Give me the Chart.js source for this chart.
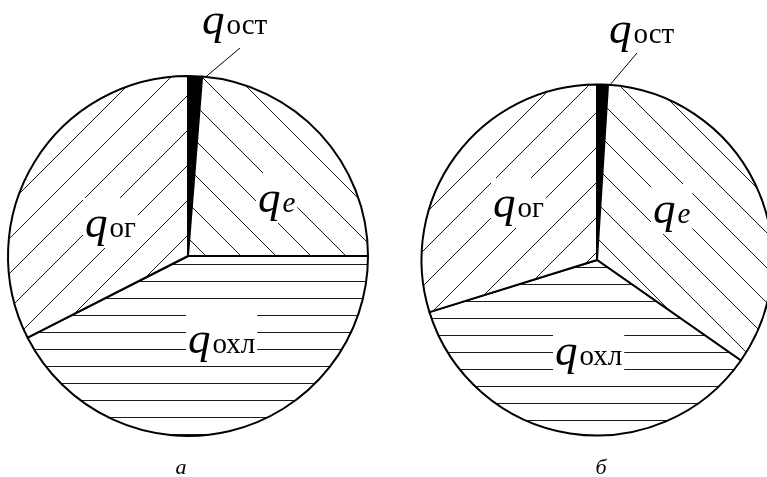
<!DOCTYPE html>
<html><head><meta charset="utf-8">
<script src="https://cdn.jsdelivr.net/npm/chart.js@4"></script>
<style>
html,body{margin:0;padding:0;background:#fff;}
#wrap{position:relative;width:767px;height:477px;overflow:hidden;background:#fff;}
canvas{position:absolute;top:0;}
</style></head><body>
<div id="wrap">
<canvas id="pieA" width="384" height="477" style="left:0"></canvas>
<canvas id="pieB" width="383" height="477" style="left:384px"></canvas>
</div>
<script>
// ---- data ----
const categories = ['ост', 'e', 'охл', 'ог'];      // q-subscripts, clockwise from top
const valuesA = [1.25, 23.75, 42.5, 32.5];          // chart "а", % of heat
const valuesB = [1.0, 33.7, 35.5, 29.8];            // chart "б", % of heat
const captions = ['а', 'б'];

// ---- styles ----
const fam = '"Liberation Serif", "Times New Roman", "DejaVu Serif", serif';
const qFont = 'italic 45px ' + fam;
const subFont = '29px ' + fam;
const eFont = 'italic 29px ' + fam;
const capFont = 'italic 22px ' + fam;

function hatch(kind, tx, ty) {
  const s = kind === 'h' ? 17 : 35;
  const c = document.createElement('canvas');
  c.width = s; c.height = s;
  const g = c.getContext('2d');
  g.fillStyle = '#fff'; g.fillRect(0, 0, s, s);
  g.strokeStyle = '#1a1a1a'; g.lineWidth = 1;
  g.beginPath();
  if (kind === 'h') { g.moveTo(0, 0.5); g.lineTo(s, 0.5); }
  else if (kind === '/') {
    g.moveTo(-2, s + 2); g.lineTo(s + 2, -2);
    g.moveTo(-2, 2); g.lineTo(2, -2);
    g.moveTo(s - 2, s + 2); g.lineTo(s + 2, s - 2);
  } else {
    g.moveTo(-2, -2); g.lineTo(s + 2, s + 2);
    g.moveTo(s - 2, -2); g.lineTo(s + 2, 2);
    g.moveTo(-2, s - 2); g.lineTo(2, s + 2);
  }
  g.stroke();
  const p = g.createPattern(c, 'repeat');
  p.setTransform(new DOMMatrix([1, 0, 0, 1, tx, ty]));
  return p;
}

const pieLabels = {
  id: 'pieLabels',
  afterDatasetsDraw(chart, args, o) {
    const ctx = chart.ctx;
    const arcs = chart.getDatasetMeta(0).data;
    const a0 = arcs[0];
    const cx = a0.x, cy = a0.y, R = a0.outerRadius;
    ctx.save();
    ctx.textBaseline = 'alphabetic';
    ctx.textAlign = 'left';
    categories.forEach((sub, i) => {
      const x = cx + o.offsets[i][0], y = cy + o.offsets[i][1];
      ctx.font = qFont; const qw = ctx.measureText('q').width;
      const sf = sub === 'e' ? eFont : subFont;
      ctx.font = sf; const sw = ctx.measureText(sub).width;
      if (i > 0) { ctx.fillStyle = '#fff'; ctx.fillRect(x - 2, y - 39, qw + sw + 6, 50); }
      ctx.fillStyle = '#000';
      ctx.font = qFont; ctx.fillText('q', x, y);
      ctx.font = sf; ctx.fillText(sub, x + qw + 2, y);
    });
    // leader line for q_ост
    const ex = cx + R * Math.cos(a0.endAngle) + o.leaderEnd[0];
    const ey = cy + R * Math.sin(a0.endAngle) + o.leaderEnd[1];
    ctx.strokeStyle = '#000'; ctx.lineWidth = 1;
    ctx.beginPath(); ctx.moveTo(cx + o.leader[0], cy + o.leader[1]); ctx.lineTo(ex, ey); ctx.stroke();
    // caption
    ctx.fillStyle = '#000';
    ctx.font = capFont; ctx.textAlign = 'center';
    ctx.fillText(o.caption, cx + o.captionOffset[0], cy + o.captionOffset[1]);
    ctx.restore();
  }
};

function makePie(id, values, cfg) {
  return new Chart(document.getElementById(id), {
    type: 'pie',
    data: {
      labels: categories,
      datasets: [{
        data: values,
        backgroundColor: cfg.fills,
        borderColor: '#000',
        borderWidth: 2,
        hoverOffset: 0,
        radius: cfg.radius
      }]
    },
    options: {
      responsive: false,
      animation: false,
      events: [],
      radius: cfg.radius,
      layout: { padding: cfg.padding },
      plugins: {
        legend: { display: false },
        tooltip: { enabled: false },
        pieLabels: cfg.labels
      }
    },
    plugins: [pieLabels]
  });
}

function drawAll() {
  makePie('pieA', valuesA, {
    radius: 180,
    padding: { left: 0, right: 8, top: 35, bottom: 0 },
    fills: ['#000', hatch('\\', 20, 0), hatch('h', 0, 9), hatch('/', 3, 0)],
    labels: {
      offsets: [[14, -222], [70, -44], [0, 97], [-103, -19]],
      leader: [52, -208], leaderEnd: [4, 0],
      caption: captions[0], captionOffset: [-7, 218]
    }
  });
  makePie('pieB', valuesB, {
    radius: 175.5,
    padding: { left: 43, right: 0, top: 43, bottom: 0 },
    fills: ['#000', hatch('\\', 10, 0), hatch('h', 0, 12), hatch('/', 10, 0)],
    labels: {
      offsets: [[12, -217], [56, -37], [-42, 105], [-104, -43]],
      leader: [40, -207], leaderEnd: [2, 0],
      caption: captions[1], captionOffset: [4, 214]
    }
  });
}

Promise.all([qFont, subFont, eFont, capFont].map(f => document.fonts.load(f, 'qостохлгабe')))
  .catch(() => null)
  .then(drawAll);
</script>
</body></html>
